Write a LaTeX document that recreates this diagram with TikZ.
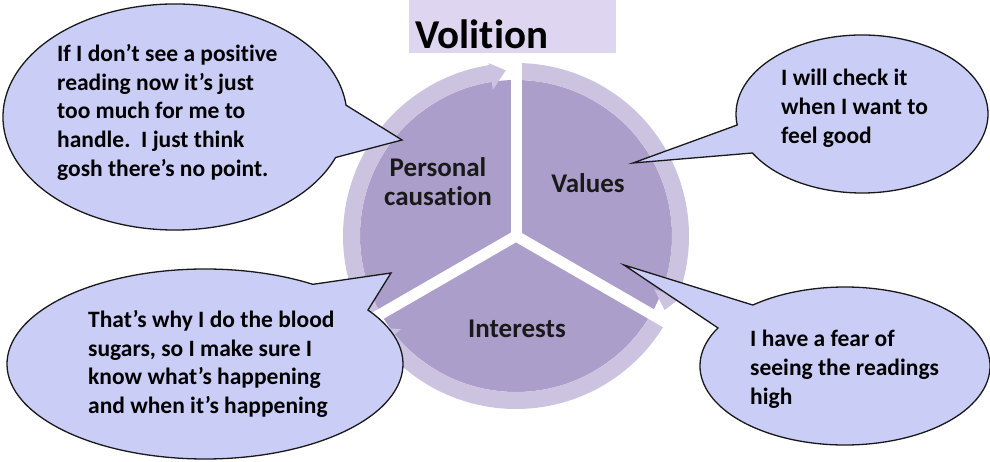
\documentclass[tikz,border=0pt]{standalone}
\usepackage{fontspec}
\setmainfont{Carlito}[Ligatures=CommonOff]
\usetikzlibrary{calc}
\definecolor{segdark}{RGB}{171,158,202}
\definecolor{seglight}{RGB}{203,195,224}
\definecolor{bubblefill}{RGB}{202,205,246}
\definecolor{titlefill}{RGB}{222,214,240}
\begin{document}
\begin{tikzpicture}[x=1pt,y=1pt,
  bubble/.style={fill=bubblefill, draw=black!90, line width=1.3pt, line join=miter},
  quote/.style={font=\fontsize{23.5}{28.75}\selectfont\bfseries, align=left,
    inner sep=0pt, anchor=north west, text=black},
  seglabel/.style={font=\fontsize{27}{29}\selectfont\bfseries, align=center,
    inner sep=0pt, text=black!90},
  gapline/.style={white, line width=11pt}]
\useasboundingbox (0,0) rectangle (990,462);

% title box
\node[fill=titlefill, minimum width=207pt, minimum height=53pt, inner sep=0pt,
  anchor=north west] (titlebox) at (409,462) {};
\node[font=\fontsize{41}{41}\selectfont\bfseries, anchor=west, inner sep=0pt]
  (title) at (415,428) {Volition};

% segmented cycle
\coordinate (hub) at (516,226);
\begin{scope}[shift={(hub)}]
  \foreach \a/\b in {90/210, 210/330, -30/90}
    \fill[segdark] (0,0) -- (\a:156pt) arc[start angle=\a, end angle=\b, radius=156pt] -- cycle;
  % outer arrow bands: tail angle / head base angle / tip angle
  \foreach \a/\b/\t in {210/99/93.5, 90/-21/-26.5, 330/219/213.5}
    \fill[seglight] (\a:173pt) arc[start angle=\a, end angle=\b, radius=173pt]
      -- (\b:175pt) -- (\t:166pt) -- (\b:148pt) -- (\b:156pt)
      arc[start angle=\b, end angle=\a, radius=156pt] -- cycle;
  \foreach \g in {90,210,330}
    \draw[gapline] (0,0) -- (\g:180pt);
\end{scope}

\node[seglabel] (personal) at (438,280) {Personal\\causation};
\node[seglabel] (values) at (588,279) {Values};
\node[seglabel] (interests) at (517,133) {Interests};

% speech bubbles
\coordinate (c1) at (175,345);  \coordinate (p1) at (402,322);
\coordinate (c2) at (862,348);  \coordinate (p2) at (633,299);
\coordinate (c3) at (205,98);   \coordinate (p3) at (391,189);
\coordinate (c4) at (845,96);   \coordinate (p4) at (624,197);

\path[bubble] ($(c1)+(6:172pt and 113pt)$) -- (p1) -- ($(c1)+(-21:172pt and 113pt)$)
  arc[start angle=-21, end angle=-354, x radius=172pt, y radius=113pt] -- cycle;
\path[bubble] ($(c2)+(188:126pt and 79pt)$) -- (p2) -- ($(c2)+(209.6:126pt and 79pt)$)
  arc[start angle=209.6, end angle=548, x radius=126pt, y radius=79pt] -- cycle;
\path[bubble] ($(c3)+(57:198pt and 95pt)$) -- (p3) -- ($(c3)+(34.6:198pt and 95pt)$)
  arc[start angle=34.6, end angle=-303, x radius=198pt, y radius=95pt] -- cycle;
\path[bubble] ($(c4)+(129.5:145pt and 79pt)$) -- (p4) -- ($(c4)+(151.2:145pt and 79pt)$)
  arc[start angle=151.2, end angle=489.5, x radius=145pt, y radius=79pt] -- cycle;

\node[quote] (q1) at (57,418) {If I don’t see a positive\\reading now it’s just\\too much for me to\\handle.\ \ I just think\\gosh there’s no point.};
\node[quote] (q2) at (781,393) {I will check it\\when I want to\\feel good};
\node[quote] (q3) at (88,152) {That’s why I do the blood\\sugars, so I make sure I\\know what’s happening\\and when it’s happening};
\node[quote] (q4) at (750,132) {I have a fear of\\seeing the readings\\high};
\end{tikzpicture}
\end{document}
